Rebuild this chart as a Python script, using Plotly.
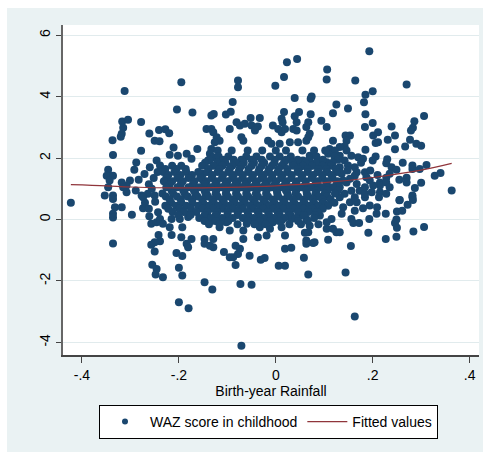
import plotly.graph_objects as go

# ---------------- data ----------------
# sparse / outer points
sparse_x = [
    -0.312, -0.195, -0.204, -0.172, -0.317, -0.305, -0.278, -0.315, -0.318, -0.320,
    -0.337, -0.261, -0.241, -0.228, -0.220, -0.250, -0.240, -0.278, -0.336, -0.288,
    -0.211, -0.219, -0.162, -0.202, -0.184, -0.174, -0.246, -0.260, -0.239, -0.346,
    -0.349, -0.336, -0.343, -0.318, -0.301, -0.308, -0.315, -0.346, -0.353, -0.336,
    -0.308, -0.423, -0.277, -0.264, -0.250,
    -0.336, -0.332, -0.336, -0.336, -0.318, -0.297, -0.336, -0.274, -0.274, -0.261,
    -0.257, -0.246, -0.239, -0.233, -0.243, -0.215, -0.219, -0.215, -0.198, -0.193,
    -0.181, -0.178, -0.242, -0.239, -0.250, -0.257, -0.250, -0.195, -0.184, -0.174,
    -0.181, -0.205, -0.193, -0.255, -0.246, -0.248, -0.233, -0.200, -0.193, -0.200,
    -0.180,
    -0.071, -0.147, -0.131, -0.073, -0.050, 0.067, 0.006, 0.019, -0.031, -0.023,
    -0.054, -0.107, -0.095, -0.083, 0.019, 0.032, 0.058, 0.063, 0.077, 0.108,
    0.067, -0.147, -0.147, -0.129, -0.129, -0.136, -0.083, -0.074, -0.067, -0.078,
    -0.088, -0.037, -0.019, 0.012, 0.019, 0.060, 0.063, 0.080, 0.125, 0.105,
    0.115, -0.147, -0.129, -0.116, -0.102, -0.095, -0.067, -0.060, -0.047, -0.033,
    -0.012, -0.006, 0.012, 0.032, 0.050, 0.063, 0.070, 0.091, 0.105, 0.118,
    0.163, 0.144, 0.155, 0.191, 0.227, 0.249, 0.284, 0.306, 0.250, 0.246,
    0.249, 0.132, 0.156, 0.160, 0.172, 0.193, 0.227, 0.250, 0.261, 0.272,
    0.282, 0.255, 0.208, 0.209, 0.194, 0.180, 0.163, 0.153, 0.167, 0.184,
    0.139, 0.136,
    0.193, 0.164, 0.270, 0.200, 0.185, 0.182, 0.149, 0.185, 0.125, 0.306,
    0.286, 0.283, 0.279, 0.200, 0.239, 0.184, 0.211, 0.201, 0.246, 0.231,
    0.144, 0.153, 0.146, 0.142, 0.146, 0.132, 0.277, 0.211, 0.206, 0.290,
    0.300, 0.267, 0.246, 0.185, 0.156, 0.170, 0.180, 0.206, 0.200, 0.230,
    0.228, 0.132, 0.142, 0.149, 0.311, 0.282, 0.282, 0.297, 0.328, 0.340,
    0.363, 0.270, 0.270, 0.287, 0.239, 0.249, 0.235, 0.228, 0.215, 0.215,
    0.228, 0.235, 0.163, 0.167, 0.163, 0.153, 0.146, 0.167, 0.184, 0.187,
    0.194, 0.201, 0.184, 0.173, 0.184, 0.198, 0.132, 0.136, 0.139, 0.132,
    0.142, 0.156, 0.163, 0.132, 0.215, 0.228, 0.213, 0.256, 0.282, 0.283,
    0.023, 0.044, 0.106, 0.105, -0.078, -0.078, -0.001, 0.017, 0.039, 0.072,
    0.074, -0.089, -0.093, -0.103, -0.128, -0.133, -0.052, -0.033, 0.017, 0.048,
    0.039, 0.072, 0.118, 0.012, 0.014, 0.043, 0.036, 0.043, 0.094, 0.105,
    0.067, 0.063, 0.070, 0.067, 0.063, -0.143, -0.133, -0.129, -0.122, -0.116,
    -0.095, -0.081, -0.074, -0.064, -0.050, -0.037, -0.043, -0.006, 0.005, 0.012,
    0.019, -0.071, -0.067, -0.016, -0.009, 0.008, 0.029, 0.046, -0.126, -0.133,
    -0.136, -0.140, -0.129, 0.118, 0.111, 0.122, 0.108, 0.091, 0.105, 0.070,
    0.056, 0.043, 0.074, 0.050, -0.150, -0.150, -0.143,
    -0.292, -0.271, -0.252, -0.283, -0.262, -0.289, -0.256, -0.270, -0.249, -0.262,
    -0.244, 0.148, 0.176, 0.195, 0.210, 0.255, 0.262, 0.300,
]
sparse_y = [
    4.19, 4.47, 3.58, 3.49, 3.19, 3.25, 3.18, 2.99, 2.79, 2.70,
    2.58, 2.80, 2.92, 2.94, 2.81, 2.57, 2.55, 2.24, 2.10, 1.86,
    2.35, 2.11, 2.30, 2.08, 2.14, 1.98, 1.92, 1.70, 1.76, 1.62,
    1.43, 1.43, 1.27, 1.21, 1.27, 1.11, 1.05, 1.05, 0.78, 0.78,
    0.89, 0.55, 0.78, 0.84, 0.78,
    0.67, 0.40, 0.19, 0.07, 0.40, 0.16, -0.78, 0.73, 0.37, 0.11,
    -0.14, -0.09, 0.02, -0.14, 0.24, 0.02, -0.25, -0.50, 0.02, -0.25,
    0.08, 0.19, -0.50, -0.71, -0.74, -0.82, -1.04, -0.58, -0.79, -0.63,
    -0.90, -1.09, -1.19, -1.47, -1.61, -1.79, -1.88, -1.57, -1.82, -2.69,
    -2.89,
    -4.11, -2.04, -2.28, -2.10, -2.12, -1.79, -1.50, -1.50, -1.31, -1.25,
    -1.18, -1.06, -1.23, -1.48, -0.95, -0.92, -1.24, -0.79, -0.76, -0.66,
    -0.41, -0.63, -0.79, -0.63, -0.90, -0.85, -0.85, -0.95, -0.63, -1.12,
    -1.23, -0.58, -0.52, -0.25, -0.52, -0.43, -0.68, -0.74, -0.41, -0.30,
    0.02, 0.13, -0.03, -0.25, -0.09, -0.36, -0.36, -0.14, -0.03, -0.25,
    -0.30, -0.09, -0.03, 0.02, 0.13, 0.02, -0.20, 0.13, -0.09, -0.30,
    -3.16, -1.72, -0.86, -0.43, -0.63, -0.56, -0.39, -0.24, -0.27, -0.11,
    0.00, -0.41, 0.02, -0.11, -0.11, 0.02, 0.19, 0.26, 0.29, 0.48,
    0.73, 0.63, 0.19, 0.40, 0.46, 0.37, 0.29, 0.56, 0.56, 0.73,
    0.40, 0.19,
    5.48, 4.53, 4.40, 4.18, 4.06, 3.82, 3.62, 3.43, 3.75, 3.37,
    3.20, 2.99, 2.90, 3.14, 3.03, 3.01, 2.84, 2.74, 2.74, 2.60,
    2.74, 2.74, 2.57, 2.38, 2.25, 2.36, 2.60, 2.52, 2.49, 2.47,
    2.40, 2.38, 2.29, 2.27, 2.08, 2.03, 1.98, 2.05, 1.92, 1.96,
    1.83, 2.08, 1.92, 1.76, 1.78, 1.76, 1.65, 1.65, 1.43, 1.52,
    0.95, 1.36, 1.21, 1.03, 1.70, 1.62, 1.49, 1.36, 1.21, 1.11,
    1.21, 1.05, 1.70, 1.54, 1.43, 1.33, 1.21, 1.16, 1.54, 1.38,
    1.27, 1.11, 1.05, 0.94, 0.84, 0.89, 1.70, 1.49, 1.27, 1.05,
    0.84, 0.94, 0.73, 0.73, 0.89, 0.84, 0.73, 0.64, 0.78, 0.64,
    5.12, 5.23, 4.89, 4.56, 4.53, 4.31, 4.36, 4.64, 3.96, 3.93,
    4.01, 3.83, 3.51, 3.42, 3.44, 3.39, 3.31, 3.31, 3.50, 3.50,
    3.36, 3.43, 3.46, 3.28, 3.17, 3.17, 2.95, 2.90, 3.22, 3.01,
    3.17, 3.01, 2.79, 2.68, 2.57, 2.95, 2.95, 2.84, 2.68, 2.57,
    2.95, 3.17, 3.06, 3.12, 3.06, 3.03, 2.90, 3.06, 2.95, 2.84,
    2.95, 2.68, 2.57, 2.57, 2.47, 2.47, 2.52, 2.52, 2.52, 2.30,
    2.14, 1.92, 2.03, 2.57, 2.30, 2.25, 2.14, 1.87, 1.87, 2.08,
    1.92, 1.81, 1.76, 1.70, 1.49, 1.27, 0.84,
    1.62, 1.48, 1.35, 1.30, 1.15, 0.95, 1.00, 0.55, 0.58, 0.35,
    1.55, 1.60, 1.85, 1.60, 1.45, 1.30, 1.85, 1.20,
]

# dense central cloud, read row by row (x positions at each y level)
cloud_rows = {
    2.25: [-0.120, -0.091, -0.058, -0.028, 0.000, 0.021, 0.055, 0.079, 0.102],
    2.05: [-0.118, -0.098, -0.061, -0.040, -0.012, 0.008, 0.031, 0.084, 0.121],
    1.95: [-0.137, -0.109, -0.087, -0.071, -0.050, -0.029, -0.002, 0.021, 0.045,
           0.069, 0.097, 0.128],
    1.85: [-0.146, -0.121, -0.104, -0.083, -0.066, -0.045, -0.024, -0.003, 0.017,
           0.034, 0.061, 0.083, 0.117],
    1.75: [-0.214, -0.195, -0.152, -0.129, -0.110, -0.090, -0.071, -0.050, -0.029,
           -0.008, 0.012, 0.036, 0.056, 0.075, 0.096, 0.114],
    1.65: [-0.228, -0.205, -0.186, -0.139, -0.116, -0.095, -0.075, -0.056, -0.034,
           -0.014, 0.006, 0.024, 0.046, 0.066, 0.088, 0.104, 0.124],
    1.55: [-0.232, -0.209, -0.185, -0.160, -0.141, -0.120, -0.098, -0.077, -0.057,
           -0.036, -0.016, 0.004, 0.024, 0.045, 0.066, 0.086, 0.106, 0.126],
    1.45: [-0.222, -0.197, -0.173, -0.131, -0.109, -0.087, -0.068, -0.047, -0.025,
           -0.007, 0.014, 0.033, 0.055, 0.077, 0.096, 0.115],
    1.35: [-0.226, -0.203, -0.180, -0.156, -0.132, -0.111, -0.090, -0.069, -0.049,
           -0.029, -0.008, 0.011, 0.032, 0.053, 0.074, 0.096, 0.117],
    1.25: [-0.231, -0.214, -0.192, -0.168, -0.143, -0.122, -0.100, -0.079, -0.059,
           -0.039, -0.018, 0.001, 0.022, 0.043, 0.062, 0.086, 0.106, 0.127],
    1.15: [-0.219, -0.196, -0.171, -0.146, -0.125, -0.104, -0.083, -0.063, -0.042,
           -0.022, -0.002, 0.019, 0.041, 0.061, 0.082, 0.105, 0.126],
    1.05: [-0.226, -0.203, -0.180, -0.158, -0.134, -0.113, -0.091, -0.070, -0.050,
           -0.029, -0.009, 0.012, 0.031, 0.052, 0.073, 0.094, 0.118],
    0.95: [-0.215, -0.191, -0.169, -0.147, -0.123, -0.102, -0.081, -0.060, -0.039,
           -0.019, 0.002, 0.021, 0.042, 0.063, 0.084, 0.107, 0.128],
    0.85: [-0.234, -0.212, -0.188, -0.166, -0.145, -0.124, -0.103, -0.082, -0.061,
           -0.041, -0.020, 0.003, 0.024, 0.041, 0.064, 0.082, 0.101, 0.122],
    0.75: [-0.227, -0.204, -0.182, -0.162, -0.140, -0.120, -0.099, -0.078, -0.057,
           -0.037, -0.016, 0.005, 0.026, 0.046, 0.067, 0.088, 0.106],
    0.65: [-0.219, -0.196, -0.173, -0.152, -0.131, -0.110, -0.089, -0.068, -0.047,
           -0.026, -0.006, 0.015, 0.036, 0.057, 0.077, 0.096, 0.113],
    0.55: [-0.216, -0.195, -0.172, -0.150, -0.128, -0.107, -0.085, -0.064, -0.043,
           -0.022, -0.003, 0.018, 0.038, 0.059, 0.079, 0.098, 0.121],
    0.45: [-0.228, -0.206, -0.185, -0.160, -0.138, -0.118, -0.095, -0.074, -0.053,
           -0.033, -0.013, 0.007, 0.028, 0.048, 0.069, 0.088, 0.108],
    0.35: [-0.222, -0.199, -0.175, -0.151, -0.130, -0.109, -0.088, -0.068, -0.047,
           -0.026, -0.006, 0.015, 0.036, 0.057, 0.076, 0.097],
    0.25: [-0.213, -0.190, -0.164, -0.141, -0.121, -0.099, -0.078, -0.058, -0.037,
           -0.016, 0.004, 0.026, 0.046, 0.067, 0.086],
    0.15: [-0.201, -0.176, -0.146, -0.124, -0.100, -0.079, -0.057, -0.035, -0.014,
           0.008, 0.030, 0.058, 0.081],
    0.05: [-0.158, -0.134, -0.111, -0.089, -0.068, -0.046, -0.025, -0.004, 0.018,
           0.041, 0.079],
    -0.05: [-0.147, -0.124, -0.098, -0.058, -0.033, -0.012, 0.007, 0.046, 0.066],
    -0.15: [-0.138, -0.116, -0.079, -0.044, -0.021, 0.028, 0.052, 0.088],
}

# fitted (quadratic) values
fit_x = [-0.423, -0.35, -0.30, -0.20, -0.10, 0.00, 0.10, 0.20, 0.30, 0.363]
fit_y = [1.14, 1.10, 1.06, 1.03, 1.05, 1.10, 1.20, 1.37, 1.61, 1.83]

x_ticks = [-0.4, -0.2, 0, 0.2, 0.4]
x_ticktext = ["-.4", "-.2", "0", ".2", ".4"]
y_ticks = [-4, -2, 0, 2, 4, 6]
y_ticktext = ["-4", "-2", "0", "2", "4", "6"]

# ---------------- build ----------------
waz_x = list(sparse_x)
waz_y = list(sparse_y)
for yy, xs in cloud_rows.items():
    for xx in xs:
        waz_x.append(xx)
        waz_y.append(yy)

FONT = "Liberation Sans, Arial, sans-serif"
NAVY = "#1a476f"
MAROON = "#90353b"
BG = "#eaf2f3"

fig = go.Figure()
fig.add_trace(go.Scatter(
    x=waz_x, y=waz_y, mode="markers", name="WAZ score in childhood",
    marker=dict(color=NAVY, size=8, line=dict(width=0)),
    showlegend=False,
))
# legend entry for the scatter (smaller symbol, as in the reference key)
fig.add_trace(go.Scatter(
    x=[None], y=[None], mode="markers", name="WAZ score in childhood",
    marker=dict(color=NAVY, size=6, line=dict(width=0)),
))
fig.add_trace(go.Scatter(
    x=fit_x, y=fit_y, mode="lines", name="Fitted values",
    line=dict(color=MAROON, width=1.2, shape="spline"),
))

W, H = 483, 452
L, R, T, B = 63, 4, 25, 97
pw, ph = W - L - R, H - T - B

def px2paper_x(px):
    return (px - L) / pw

def px2paper_y(py):
    return (H - B - py) / ph

fig.add_shape(type="rect", xref="paper", yref="paper",
              x0=px2paper_x(7), x1=px2paper_x(484), y0=px2paper_y(453), y1=px2paper_y(8),
              fillcolor=BG, line=dict(width=0), layer="below")
fig.add_shape(type="rect", xref="paper", yref="paper",
              x0=0, x1=1, y0=0, y1=1,
              fillcolor="white", line=dict(width=0), layer="below")

fig.update_layout(
    width=W, height=H,
    margin=dict(l=L, r=R, t=T, b=B),
    paper_bgcolor="white", plot_bgcolor="white",
    font=dict(family=FONT, size=14, color="black"),
    showlegend=True,
    legend=dict(
        orientation="h", x=px2paper_x(99), xanchor="left",
        y=px2paper_y(405), yanchor="top",
        bgcolor="white", bordercolor="black", borderwidth=1,
        font=dict(family=FONT, size=14, color="black"),
        itemsizing="trace", tracegroupgap=0, itemwidth=40,
    ),
    xaxis=dict(
        range=[-0.4392, 0.4194], tickvals=x_ticks, ticktext=x_ticktext,
        ticks="outside", ticklen=6, tickcolor="#444", tickwidth=1,
        showline=True, linecolor="#444", linewidth=1.5,
        showgrid=False, zeroline=False,
        tickfont=dict(family=FONT, size=14, color="black"),
        title=dict(text="Birth-year Rainfall", font=dict(family=FONT, size=14, color="black"),
                   standoff=2),
    ),
    yaxis=dict(
        range=[-4.41, 6.335], tickvals=y_ticks, ticktext=y_ticktext,
        tickangle=-90,
        ticks="outside", ticklen=5, tickcolor="#444", tickwidth=1,
        showline=True, linecolor="#666", linewidth=1.5,
        showgrid=True, gridcolor="#e1ebed", gridwidth=1.2, zeroline=False,
        tickfont=dict(family=FONT, size=14, color="black"),
        ticklabelstandoff=1,
    ),
)

fig.write_html("out.html")
